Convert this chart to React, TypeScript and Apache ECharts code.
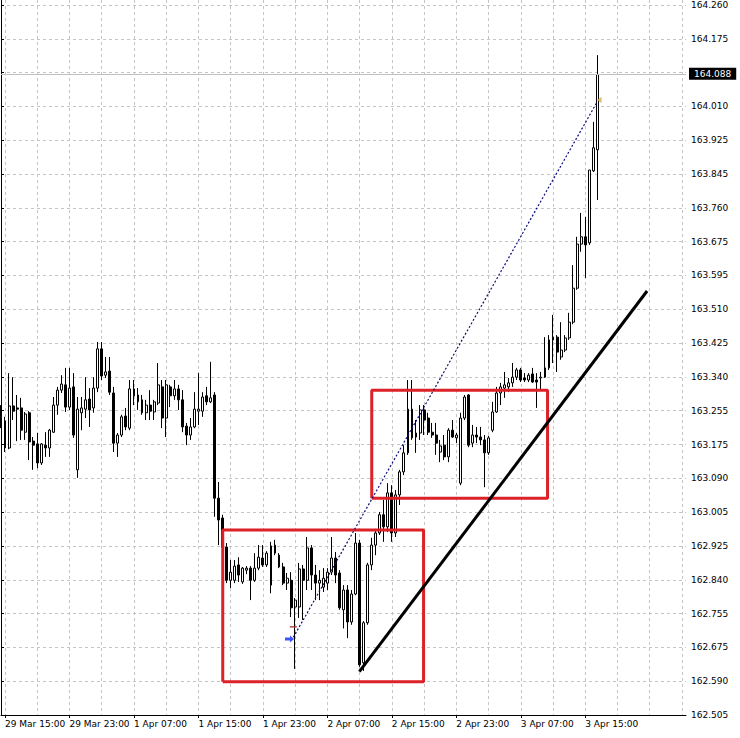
import React, { useEffect, useRef } from "react";
import * as echarts from "echarts";

// ---- tick labels ----
const xTickLabels = [
  "29 Mar 15:00", "29 Mar 23:00", "1 Apr 07:00", "1 Apr 15:00", "1 Apr 23:00",
  "2 Apr 07:00", "2 Apr 15:00", "2 Apr 23:00", "3 Apr 07:00", "3 Apr 15:00",
];
// bottom to top; the one under the bid box is hidden
const priceTickLabels = [
  "162.505", "162.590", "162.675", "162.755", "162.840", "162.925", "163.005",
  "163.090", "163.175", "163.255", "163.340", "163.425", "163.510", "163.595",
  "163.675", "163.760", "163.845", "163.925", "164.010", "", "164.175", "164.260",
];

// ---- M30 candles ----
const opens = [
  163.242,163.232,163.165,163.269,163.264,163.264,163.204,163.252,163.182,163.175,
  163.128,163.172,163.165,163.204,163.271,163.308,163.321,163.266,163.316,163.111,
  163.252,163.261,163.286,163.264,163.313,163.410,163.345,163.355,163.301,163.177,
  163.197,163.244,163.214,163.311,163.279,163.284,163.252,163.271,163.254,163.276,
  163.316,163.239,163.316,163.294,163.311,163.284,163.219,163.197,163.217,163.256,
  163.256,163.294,163.279,163.296,163.041,162.992,162.920,162.838,162.838,162.876,
  162.834,162.863,162.868,162.838,162.868,162.893,162.876,162.826,162.905,162.900,
  162.871,162.831,162.838,162.772,162.772,162.866,162.838,162.918,162.851,162.831,
  162.821,162.831,162.858,162.893,162.856,162.765,162.814,162.735,162.804,162.930,
  162.634,162.733,162.876,162.925,162.955,163.000,162.970,163.054,162.955,163.049,
  163.106,163.153,163.261,163.192,163.202,163.259,163.239,163.204,163.197,163.155,
  163.172,163.143,163.209,163.190,163.078,163.239,163.296,163.177,163.197,163.192,
  163.185,163.153,163.209,163.254,163.301,163.313,163.316,163.326,163.340,163.358,
  163.338,163.333,163.348,163.333,163.338,163.340,163.363,163.432,163.439,163.390,
  163.407,163.437,163.476,163.560,163.669,163.687,163.672,163.850,163.902,
];
const closes = [
  163.234,163.165,163.269,163.256,163.261,163.209,163.249,163.180,163.172,163.128,
  163.175,163.165,163.209,163.271,163.308,163.323,163.266,163.313,163.197,163.261,
  163.264,163.284,163.259,163.313,163.410,163.343,163.353,163.303,163.177,163.197,
  163.242,163.217,163.311,163.294,163.296,163.252,163.271,163.256,163.279,163.321,
  163.239,163.321,163.294,163.311,163.284,163.217,163.197,163.217,163.261,163.261,
  163.291,163.279,163.289,163.041,162.987,162.920,162.838,162.858,162.873,162.851,
  162.868,162.868,162.838,162.868,162.895,162.876,162.905,162.923,162.925,162.871,
  162.831,162.843,162.770,162.789,162.866,162.838,162.918,162.851,162.831,162.838,
  162.843,162.858,162.893,162.851,162.770,162.814,162.735,162.804,162.930,162.629,
  162.733,162.876,162.925,162.955,163.000,162.970,163.054,162.955,163.049,163.106,
  163.153,163.261,163.190,163.202,163.259,163.234,163.204,163.197,163.177,163.170,
  163.143,163.209,163.192,163.197,163.239,163.291,163.172,163.197,163.192,163.185,
  163.153,163.190,163.254,163.301,163.316,163.321,163.326,163.340,163.358,163.333,
  163.333,163.345,163.328,163.328,163.340,163.363,163.432,163.439,163.402,163.407,
  163.437,163.476,163.560,163.669,163.687,163.667,163.852,163.907,164.088,
];
const lows = [
  163.214,163.155,163.162,163.234,163.182,163.185,163.185,163.135,163.111,163.115,
  163.123,163.143,163.143,163.202,163.247,163.301,163.254,163.259,163.190,163.091,
  163.209,163.239,163.217,163.252,163.303,163.333,163.338,163.296,163.155,163.143,
  163.192,163.209,163.209,163.271,163.259,163.247,163.234,163.234,163.234,163.271,
  163.214,163.192,163.266,163.284,163.259,163.204,163.172,163.185,163.214,163.222,
  163.242,163.271,163.276,162.995,162.925,162.893,162.831,162.819,162.831,162.834,
  162.829,162.853,162.789,162.834,162.863,162.871,162.871,162.806,162.900,162.868,
  162.826,162.814,162.747,162.619,162.745,162.740,162.814,162.814,162.789,162.789,
  162.809,162.814,162.851,162.831,162.765,162.719,162.695,162.728,162.801,162.624,
  162.614,162.728,162.863,162.900,162.950,162.933,162.957,162.933,162.945,163.024,
  163.098,163.148,163.185,163.153,163.185,163.197,163.197,163.190,163.148,163.130,
  163.135,163.130,163.190,163.177,163.073,163.234,163.167,163.167,163.177,163.172,
  163.068,163.148,163.204,163.252,163.271,163.289,163.303,163.316,163.333,163.328,
  163.328,163.328,163.326,163.264,163.308,163.338,163.358,163.375,163.353,163.383,
  163.402,163.432,163.471,163.556,163.650,163.585,163.667,163.847,163.778,
];
const highs = [
  163.271,163.242,163.350,163.340,163.296,163.289,163.254,163.256,163.192,163.202,
  163.177,163.204,163.212,163.291,163.316,163.345,163.363,163.363,163.350,163.291,
  163.291,163.340,163.313,163.340,163.427,163.427,163.390,163.390,163.316,163.202,
  163.247,163.264,163.333,163.333,163.313,163.296,163.284,163.308,163.284,163.375,
  163.333,163.333,163.321,163.333,163.321,163.308,163.227,163.239,163.303,163.350,
  163.303,163.316,163.378,163.303,163.081,163.000,162.930,162.888,162.888,162.895,
  162.871,162.873,162.873,162.905,162.925,162.925,162.910,162.933,162.938,162.905,
  162.881,162.856,162.858,162.794,162.881,162.876,162.945,162.925,162.876,162.863,
  162.868,162.868,162.945,162.908,162.863,162.826,162.826,162.814,162.955,162.938,
  162.737,162.881,162.943,162.965,163.007,163.037,163.078,163.073,163.061,163.111,
  163.172,163.333,163.333,163.234,163.271,163.271,163.252,163.227,163.227,163.185,
  163.197,163.214,163.234,163.202,163.252,163.296,163.298,163.222,163.217,163.217,
  163.197,163.195,163.279,163.316,163.326,163.353,163.338,163.375,163.363,163.363,
  163.350,163.350,163.363,163.350,163.353,163.439,163.444,163.494,163.444,163.476,
  163.444,163.499,163.617,163.687,163.746,163.736,163.852,163.971,164.136,
];

// ---- annotations in axis units (bar slot, price) ----
const bidPrice = 164.088;
const box1X = [55.03, 104.87];
const box1Y = [162.587, 162.962];
const box2X = [92.01, 135.64];
const box2Y = [163.041, 163.308];
const trendLine = [[88.93, 162.612], [160.34, 163.553]];
const tradeLine = [[72.55, 162.697], [147.93, 164.02]];
const buyArrow = [71.6, 162.693];
const openMark = [72.55, 162.723];
const closeMark = [148.42, 164.025];

const FONT = '"DejaVu Sans", Tahoma, sans-serif';
const Y_MIN = 162.505;
const Y_MAX = 164.2723;
const Y_STEP = (164.26 - 162.505) / 21;
const N_SLOTS = 171;

function rectPath(xs: number[], ys: number[]) {
  return [
    [xs[0], ys[0]], [xs[1], ys[0]], [xs[1], ys[1]], [xs[0], ys[1]], [xs[0], ys[0]],
  ];
}

export default function App() {
  const ref = useRef<HTMLDivElement>(null);

  useEffect(() => {
    if (!ref.current) return;
    const chart = echarts.init(ref.current, undefined, { renderer: "svg" });
    const slots = Array.from({ length: N_SLOTS }, (_, i) => String(i));
    const candles = opens.map((o, i) => [o, closes[i], lows[i], highs[i]]);
    const yTicks = priceTickLabels.map((_, k) => Y_MIN + k * Y_STEP);
    const labelIdx = (i: number) => i >= 1 && (i - 1) % 16 === 0 && (i - 1) / 16 < xTickLabels.length;
    const gridIdx = (i: number) => i >= 1 && (i - 1) % 8 === 0;
    const gridLine = { color: "#c4c4c4", type: [3, 3] as any, width: 1 };

    chart.setOption({
      animation: false,
      backgroundColor: "#ffffff",
      textStyle: { fontFamily: FONT },
      grid: { left: 1, right: 54, top: 0, bottom: 23, containLabel: false, outerBoundsMode: "none" },
      xAxis: [
        {
          type: "category",
          data: slots,
          boundaryGap: false,
          axisLine: { show: true, lineStyle: { color: "#000", width: 1 } },
          axisTick: { show: true, interval: (i: number) => labelIdx(i), length: 3, lineStyle: { color: "#000" } },
          axisLabel: {
            interval: (i: number) => labelIdx(i),
            formatter: (_v: string, idx: number) => (labelIdx(idx) ? xTickLabels[(idx - 1) / 16] : ""),
            align: "left",
            color: "#000",
            fontSize: 9,
            fontFamily: FONT,
            margin: 4,
          },
          splitLine: { show: true, interval: (i: number) => gridIdx(i), lineStyle: gridLine },
        },
        { type: "value", min: 0, max: N_SLOTS - 1, show: false },
      ],
      yAxis: {
        type: "value",
        position: "right",
        min: Y_MIN,
        max: Y_MAX,
        axisLine: { show: true, lineStyle: { color: "#000", width: 1 } },
        axisTick: { show: true, length: 3, lineStyle: { color: "#000" }, customValues: yTicks },
        axisLabel: {
          customValues: yTicks,
          formatter: (v: number) => priceTickLabels[Math.round((v - Y_MIN) / Y_STEP)] ?? "",
          color: "#000",
          fontSize: 9,
          fontFamily: FONT,
          margin: 5,
        },
        splitLine: { show: true, lineStyle: gridLine },
      },
      series: [
        {
          type: "candlestick",
          data: candles,
          barWidth: 2.4,
          itemStyle: {
            color: "#ffffff",
            color0: "#000000",
            borderColor: "#000000",
            borderColor0: "#000000",
            borderColorDoji: "#000000",
            borderWidth: 1,
          },
          markLine: {
            silent: true,
            symbol: ["none", "none"],
            lineStyle: { color: "#c0c0c0", type: "solid", width: 1 },
            label: {
              show: true,
              position: "end",
              formatter: bidPrice.toFixed(3),
              color: "#ffffff",
              backgroundColor: "#000000",
              padding: [2, 5, 1, 5],
              fontSize: 9,
              fontFamily: FONT,
              distance: 3,
            },
            data: [{ yAxis: bidPrice }],
          },
          z: 2,
        },
        {
          type: "line",
          xAxisIndex: 1,
          data: rectPath(box1X, box1Y),
          symbol: "none",
          lineStyle: { color: "#dc2127", width: 3 },
          silent: true,
          z: 4,
        },
        {
          type: "line",
          xAxisIndex: 1,
          data: rectPath(box2X, box2Y),
          symbol: "none",
          lineStyle: { color: "#dc2127", width: 3 },
          silent: true,
          z: 4,
        },
        {
          type: "line",
          xAxisIndex: 1,
          data: trendLine,
          symbol: "none",
          lineStyle: { color: "#000000", width: 3 },
          silent: true,
          z: 4,
        },
        {
          type: "line",
          xAxisIndex: 1,
          data: tradeLine,
          symbol: "none",
          lineStyle: { color: "#0c0c7a", width: 1.2, type: [2, 2] },
          silent: true,
          z: 4,
        },
        {
          type: "scatter",
          xAxisIndex: 1,
          silent: true,
          z: 5,
          data: [
            {
              value: buyArrow,
              symbol: "path://M0,2L5,2L5,0L9,3.5L5,7L5,5L0,5Z",
              symbolSize: [9, 7],
              itemStyle: { color: "#0a2cf5" },
            },
            {
              value: openMark,
              symbol: "rect",
              symbolSize: [7, 1.6],
              itemStyle: { color: "#a8302a" },
            },
            {
              value: closeMark,
              symbol: "path://M0,3L6,0L6,6Z",
              symbolSize: [5, 6],
              itemStyle: { color: "#d6ab55" },
            },
          ],
        },
      ],
    });
    return () => chart.dispose();
  }, []);

  return (
    <div
      ref={ref}
      style={{ position: "absolute", left: 0, top: 0, width: 740, height: 738, background: "#fff" }}
    />
  );
}
